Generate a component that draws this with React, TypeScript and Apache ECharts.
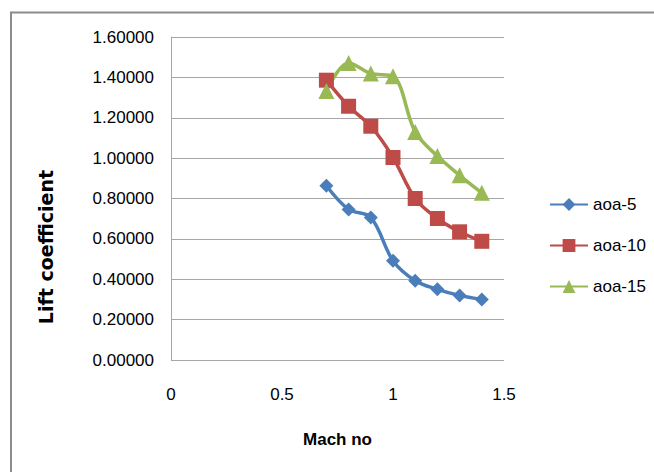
import React, { useEffect, useRef } from "react";
import * as echarts from "echarts";

const machNo = [0.7, 0.8, 0.9, 1.0, 1.1, 1.2, 1.3, 1.4];
const aoa5 = [0.863, 0.746, 0.706, 0.492, 0.393, 0.35, 0.32, 0.3];
const aoa10 = [1.386, 1.257, 1.158, 1.003, 0.8, 0.701, 0.635, 0.588];
const aoa15 = [1.333, 1.471, 1.419, 1.405, 1.13, 1.01, 0.915, 0.828];
const seriesNames = ["aoa-5", "aoa-10", "aoa-15"];
const colors = ["#4a7ebb", "#be4b48", "#98b954"];
const symbols = ["diamond", "rect", "triangle"];
const symbolSizes = [14, 15, 16];

const sans = "'Liberation Sans', Arial, sans-serif";

export default function App() {
  const ref = useRef<HTMLDivElement>(null);
  useEffect(() => {
    if (!ref.current) return;
    const chart = echarts.init(ref.current, undefined, { renderer: "svg" });
    const datasets = [aoa5, aoa10, aoa15];
    chart.setOption({
      animation: false,
      backgroundColor: "#ffffff",
      graphic: [
        {
          type: "rect",
          shape: { x: 11, y: 12.5, width: 700, height: 500 },
          style: { fill: "none", stroke: "#8c8c8c", lineWidth: 2 },
          silent: true,
        },
        {
          type: "text",
          x: 46,
          y: 247,
          rotation: Math.PI / 2,
          style: {
            text: "Lift coefficient",
            fontFamily: "'DejaVu Sans', sans-serif",
            fontSize: 19,
            fontWeight: "bold",
            fill: "#000",
            align: "center",
            verticalAlign: "middle",
          },
          silent: true,
        },
      ],
      grid: { left: 171, top: 37, right: 150, bottom: 112 },
      legend: {
        orient: "vertical",
        left: 544,
        top: 191,
        itemWidth: 38,
        itemHeight: 16,
        itemGap: 24,
        data: seriesNames,
        textStyle: { fontFamily: sans, fontSize: 17, color: "#000", lineHeight: 17 },
      },
      xAxis: {
        type: "value",
        min: 0,
        max: 1.5,
        interval: 0.5,
        name: "Mach no",
        nameLocation: "middle",
        nameGap: 71,
        nameTextStyle: { fontFamily: sans, fontSize: 17, fontWeight: "bold", color: "#000" },
        axisLine: { show: false },
        axisTick: { show: false },
        splitLine: { show: false },
        axisLabel: {
          fontFamily: sans,
          fontSize: 17,
          color: "#000",
          margin: 26,
          formatter: (v: number) => String(v),
        },
      },
      yAxis: {
        type: "value",
        min: 0,
        max: 1.6,
        interval: 0.2,
        axisLine: { show: true, lineStyle: { color: "#a6a6a6", width: 1 } },
        axisTick: { show: false },
        splitLine: { show: true, lineStyle: { color: "#a6a6a6", width: 1 } },
        axisLabel: {
          fontFamily: sans,
          fontSize: 17,
          color: "#000",
          margin: 17,
          formatter: (v: number) => v.toFixed(5),
        },
      },
      series: datasets.map((d, i) => ({
        name: seriesNames[i],
        type: "line",
        data: machNo.map((x, j) => [x, d[j]]),
        smooth: 0.35,
        symbol: symbols[i],
        symbolSize: symbolSizes[i],
        color: colors[i],
        lineStyle: { color: colors[i], width: 3.5 },
        itemStyle: { color: colors[i] },
      })),
    });
    return () => chart.dispose();
  }, []);
  return (
    <div
      ref={ref}
      style={{ position: "absolute", left: 0, top: 0, width: 654, height: 472 }}
    />
  );
}
